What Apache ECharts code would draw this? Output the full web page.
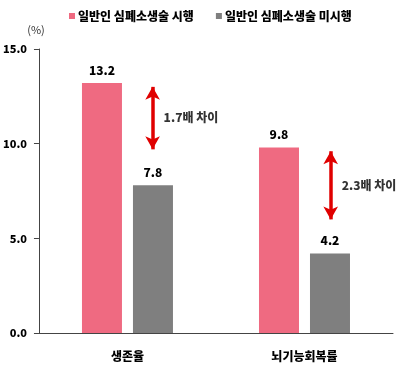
<!DOCTYPE html>
<html><head><meta charset="utf-8">
<script src="https://cdn.jsdelivr.net/npm/echarts@6/dist/echarts.min.js"></script>
<style>html,body{margin:0;padding:0;background:#fff}#c{width:400px;height:368px}</style>
</head><body><div id="c"></div>
<script>
const categories = ['생존율', '뇌기능회복률'];
const seriesNames = ['일반인 심폐소생술 시행', '일반인 심폐소생술 미시행'];
const cprDone = [13.2, 9.8];
const cprNotDone = [7.8, 4.2];
const yTicks = [0, 5, 15];
const arrowX = [0.642, 1.648];
const arrowTop = [13.0, 9.6];
const arrowBottom = [9.7, 6.0];
const arrowLabelY = [11.4, 7.8];
const arrowLabels = ['1.7배 차이', '2.3배 차이'];

const FONT = '"Noto Sans CJK KR", sans-serif';
const W = 900;
const chart = echarts.init(document.getElementById('c'), null, {renderer: 'canvas'});
chart.setOption({
  animation: false,
  textStyle: {fontFamily: FONT},
  legend: {
    data: seriesNames,
    left: 64, top: 5,
    itemWidth: 6, itemHeight: 6, itemGap: 22,
    icon: 'rect',
    textStyle: {fontFamily: FONT, fontWeight: W, fontSize: 12, color: '#000', padding: [0,0,0,-2]}
  },
  grid: {left: 35, right: 7, top: 49, bottom: 35},
  xAxis: [{
    type: 'category', data: categories,
    axisLine: {lineStyle: {color: '#444', width: 1}},
    axisTick: {show: false},
    axisLabel: {fontFamily: FONT, fontWeight: W, fontSize: 12, color: '#000', margin: 17}
  }, {
    type: 'value', min: 0, max: 2, show: false
  }],
  yAxis: {
    type: 'value', min: yTicks[0], max: yTicks[2], interval: yTicks[1],
    name: '(%)', nameLocation: 'end', nameGap: 14,
    nameTextStyle: {fontFamily: FONT, fontSize: 11, color: '#333', align: 'center', padding: [0, 0, 0, -6]},
    splitLine: {show: false},
    axisLine: {show: true, lineStyle: {color: '#444', width: 1}},
    axisTick: {show: true, length: 5, lineStyle: {color: '#444'}},
    axisLabel: {fontFamily: FONT, fontWeight: W, fontSize: 11, color: '#000', margin: 12,
      formatter: v => v.toFixed(1)}
  },
  series: [{
    name: seriesNames[0], type: 'bar', data: cprDone,
    barWidth: 40, barGap: '27.5%',
    itemStyle: {color: '#EF6A81'},
    label: {show: true, position: 'top', distance: 7, fontFamily: FONT, fontWeight: W, fontSize: 12, color: '#000',
      formatter: p => p.value.toFixed(1)}
  }, {
    name: seriesNames[1], type: 'bar', data: cprNotDone,
    barWidth: 40,
    itemStyle: {color: '#7F7F7F'},
    label: {show: true, position: 'top', distance: 7, fontFamily: FONT, fontWeight: W, fontSize: 12, color: '#000',
      formatter: p => p.value.toFixed(1)}
  }, {
    type: 'scatter', xAxisIndex: 1, symbolSize: 0, silent: true,
    data: arrowX.map((x, i) => ({value: [x, arrowLabelY[i]], name: arrowLabels[i]})),
    label: {show: true, position: 'right', distance: 11, formatter: p => p.name,
      fontFamily: FONT, fontWeight: W, fontSize: 12, color: '#000'},
    markLine: {
      silent: true, animation: false,
      symbol: ['arrow', 'arrow'], symbolSize: [11, 13],
      lineStyle: {color: '#E00000', width: 3.5, type: 'solid'},
      label: {show: false},
      data: arrowX.map((x, i) => [{coord: [x, arrowTop[i]]}, {coord: [x, arrowBottom[i]]}])
    }
  }]
});
</script></body></html>
